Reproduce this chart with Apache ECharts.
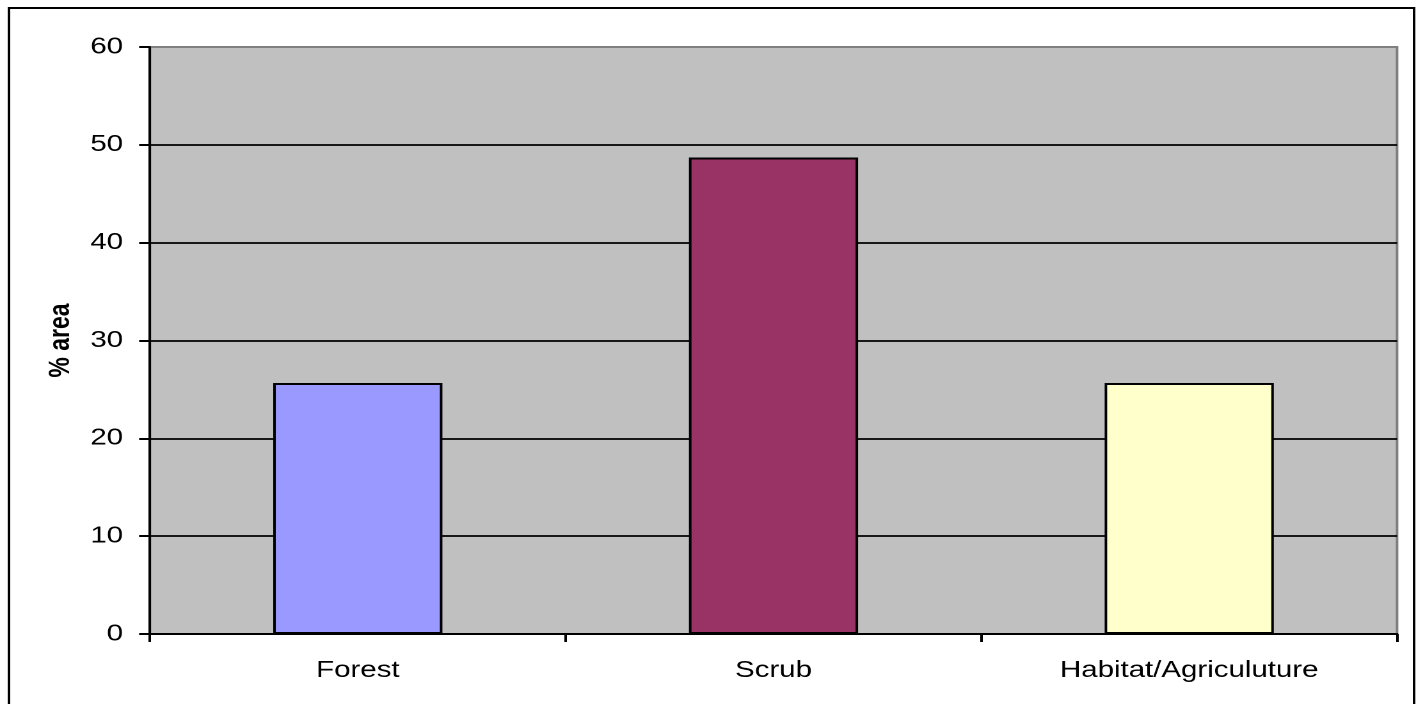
<!DOCTYPE html>
<html>
<head>
<meta charset="utf-8">
<script src="https://cdn.jsdelivr.net/npm/echarts@6/dist/echarts.min.js"></script>
<style>
  html, body { margin: 0; padding: 0; background: #ffffff; }
  #wrap { width: 1423px; height: 704px; overflow: hidden; position: relative; background: #ffffff; }
  /* The chart is laid out narrower and stretched horizontally, giving the wide lettering of the original figure */
  #chart { width: 1112px; height: 704px; transform: scaleX(1.2797); transform-origin: 0 0; }
</style>
</head>
<body>
<div id="wrap"><div id="chart"></div></div>
<script>
// Land cover shares
const categories = ['Forest', 'Scrub', 'Habitat/Agriculuture'];
const areaPercent = [25.65, 48.7, 25.65];
const barColors = ['#9999FF', '#993366', '#FFFFCC'];
const yTicks = [0, 10, 20, 30, 40, 50, 60];

const chart = echarts.init(document.getElementById('chart'), null, { devicePixelRatio: 2 });
const font = "'Liberation Sans', Arial, sans-serif";

chart.setOption({
  animation: false,
  backgroundColor: '#ffffff',
  graphic: [{
    type: 'rect',
    z: 100,
    silent: true,
    shape: { x: 7, y: 8, width: 1098, height: 720 },
    style: { fill: 'none', stroke: '#000000', lineWidth: 2 }
  }],
  grid: {
    left: 117.2, right: 20.3, top: 47, bottom: 70,
    show: true,
    backgroundColor: '#C0C0C0',
    borderColor: '#808080',
    borderWidth: 2
  },
  xAxis: {
    type: 'category',
    data: categories,
    axisLine: { lineStyle: { color: '#000000', width: 2 } },
    axisTick: { show: true, length: 8, lineStyle: { color: '#000000', width: 2 } },
    axisLabel: { color: '#000000', fontFamily: font, fontSize: 23, margin: 25 },
    splitLine: { show: false }
  },
  yAxis: {
    type: 'value',
    min: yTicks[0],
    max: yTicks[yTicks.length - 1],
    interval: 10,
    name: '% area',
    nameLocation: 'middle',
    nameGap: 58,
    nameTextStyle: { color: '#000000', fontFamily: font, fontSize: 23, fontWeight: 'bold' },
    axisLine: { show: true, lineStyle: { color: '#000000', width: 2 } },
    axisTick: { show: true, length: 8.5, lineStyle: { color: '#000000', width: 2 } },
    axisLabel: { color: '#000000', fontFamily: font, fontSize: 23, margin: 21 },
    splitLine: {
      show: true,
      lineStyle: {
        color: ['#000000', '#000000', '#000000', '#000000', '#000000', '#000000', '#808080'],
        width: 1.8
      }
    }
  },
  series: [{
    type: 'bar',
    barWidth: '40.7%',
    data: areaPercent.map((v, i) => ({
      value: v,
      itemStyle: { color: barColors[i], borderColor: '#000000', borderWidth: 2 }
    }))
  }]
});
</script>
</body>
</html>
